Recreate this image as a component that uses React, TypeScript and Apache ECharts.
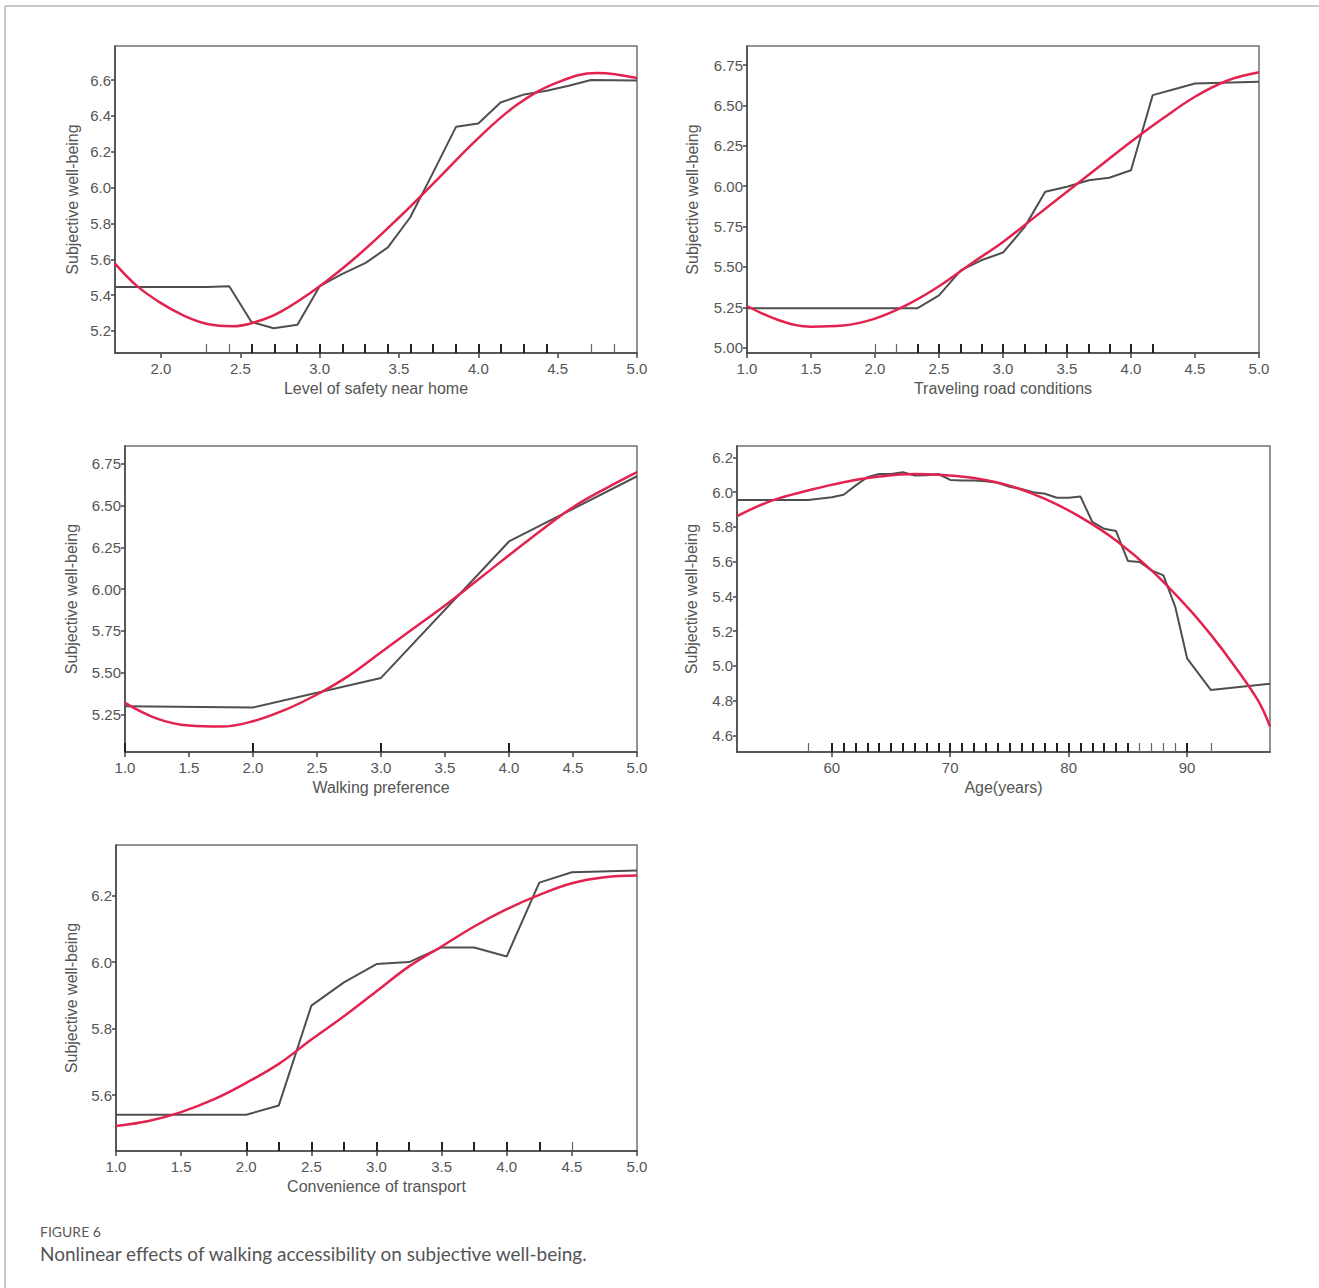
import React, { useEffect, useRef } from "react";
import * as echarts from "echarts";

// ---------- Panel 1: Level of safety near home ----------
const safetyPdX = [1.71, 2.29, 2.43, 2.57, 2.71, 2.86, 3.0, 3.14, 3.29, 3.43, 3.57, 3.71, 3.86, 4.0, 4.14, 4.29, 4.43, 4.57, 4.71, 5.0];
const safetyPdY = [5.445, 5.445, 5.45, 5.25, 5.215, 5.234, 5.45, 5.517, 5.58, 5.666, 5.833, 6.075, 6.34, 6.358, 6.475, 6.52, 6.54, 6.568, 6.6, 6.597];
const safetyFitX = [1.71, 1.85, 2.0, 2.15, 2.3, 2.45, 2.6, 2.75, 3.0, 3.25, 3.5, 3.75, 4.0, 4.25, 4.5, 4.75, 5.0];
const safetyFitY = [5.576, 5.45, 5.355, 5.283, 5.237, 5.226, 5.251, 5.305, 5.45, 5.628, 5.833, 6.053, 6.276, 6.466, 6.587, 6.64, 6.611];
const safetyRugHeavy = [2.571, 2.714, 2.857, 3.0, 3.143, 3.286, 3.429, 3.571, 3.714, 3.857, 4.0, 4.143, 4.286, 4.429];
const safetyRugLight = [2.286, 2.429, 4.714, 4.857];
const safetyXTicks = [2.0, 2.5, 3.0, 3.5, 4.0, 4.5, 5.0];
const safetyYTicks = [5.2, 5.4, 5.6, 5.8, 6.0, 6.2, 6.4, 6.6];

// ---------- Panel 2: Traveling road conditions ----------
const roadPdX = [1.0, 2.33, 2.5, 2.67, 2.83, 3.0, 3.17, 3.33, 3.5, 3.67, 3.83, 4.0, 4.17, 4.33, 4.5, 5.0];
const roadPdY = [5.244, 5.244, 5.324, 5.479, 5.541, 5.589, 5.748, 5.965, 5.996, 6.037, 6.052, 6.099, 6.564, 6.599, 6.636, 6.646];
const roadFitX = [1.0, 1.25, 1.5, 1.75, 2.0, 2.25, 2.5, 2.75, 3.0, 3.25, 3.5, 3.75, 4.0, 4.25, 4.5, 4.75, 5.0];
const roadFitY = [5.258, 5.17, 5.13, 5.137, 5.18, 5.265, 5.38, 5.52, 5.655, 5.81, 5.965, 6.12, 6.275, 6.42, 6.554, 6.653, 6.705];
const roadRugHeavy = [2.333, 2.5, 2.667, 2.833, 3.0, 3.167, 3.333, 3.5, 3.667, 3.833, 4.0, 4.167];
const roadRugLight = [2.0, 2.167];
const roadXTicks = [1.0, 1.5, 2.0, 2.5, 3.0, 3.5, 4.0, 4.5, 5.0];
const roadYTicks = [5.0, 5.25, 5.5, 5.75, 6.0, 6.25, 6.5, 6.75];

// ---------- Panel 3: Walking preference ----------
const walkPdX = [1.0, 2.0, 3.0, 4.0, 5.0];
const walkPdY = [5.3, 5.292, 5.469, 6.285, 6.675];
const walkFitX = [1.0, 1.25, 1.5, 1.75, 2.0, 2.25, 2.5, 2.75, 3.0, 3.25, 3.5, 3.75, 4.0, 4.25, 4.5, 4.75, 5.0];
const walkFitY = [5.32, 5.226, 5.184, 5.178, 5.21, 5.278, 5.37, 5.483, 5.623, 5.763, 5.902, 6.052, 6.202, 6.351, 6.49, 6.6, 6.7];
const walkRugHeavy = [1.0, 2.0, 3.0, 4.0];
const walkRugLight: number[] = [];
const walkXTicks = [1.0, 1.5, 2.0, 2.5, 3.0, 3.5, 4.0, 4.5, 5.0];
const walkYTicks = [5.25, 5.5, 5.75, 6.0, 6.25, 6.5, 6.75];

// ---------- Panel 4: Age(years) ----------
const agePdX = [52, 58, 60, 61, 62, 63, 64, 65, 66, 67, 68, 69, 70, 71, 72, 73, 74, 75, 76, 77, 78, 79, 80, 81, 82, 83, 84, 85, 86, 87, 88, 89, 90, 92, 97];
const agePdY = [5.955, 5.955, 5.97, 5.985, 6.037, 6.085, 6.104, 6.104, 6.114, 6.095, 6.097, 6.104, 6.07, 6.066, 6.066, 6.062, 6.053, 6.03, 6.018, 5.999, 5.99, 5.967, 5.967, 5.974, 5.828, 5.789, 5.776, 5.604, 5.598, 5.55, 5.521, 5.34, 5.044, 4.862, 4.897];
const ageFitX = [52, 55, 58, 61, 64, 67, 69, 72, 75, 78, 81, 84, 87, 90, 92, 94, 96, 97];
const ageFitY = [5.862, 5.952, 6.009, 6.057, 6.089, 6.104, 6.1, 6.081, 6.037, 5.961, 5.856, 5.722, 5.55, 5.34, 5.18, 5.0, 4.8, 4.652];
const ageRugHeavy = [60, 61, 62, 63, 64, 65, 66, 67, 68, 69, 70, 71, 72, 73, 74, 75, 76, 77, 78, 79, 80, 81, 82, 83, 84, 85, 90];
const ageRugLight = [58, 86, 87, 88, 89, 92];
const ageXTicks = [60, 70, 80, 90];
const ageYTicks = [4.6, 4.8, 5.0, 5.2, 5.4, 5.6, 5.8, 6.0, 6.2];

// ---------- Panel 5: Convenience of transport ----------
const convPdX = [1.0, 2.0, 2.25, 2.5, 2.75, 3.0, 3.25, 3.5, 3.75, 4.0, 4.25, 4.5, 5.0];
const convPdY = [5.541, 5.541, 5.569, 5.869, 5.939, 5.994, 6.0, 6.044, 6.044, 6.017, 6.239, 6.27, 6.275];
const convFitX = [1.0, 1.25, 1.5, 1.75, 2.0, 2.25, 2.5, 2.75, 3.0, 3.25, 3.5, 3.75, 4.0, 4.25, 4.5, 4.75, 5.0];
const convFitY = [5.507, 5.522, 5.549, 5.587, 5.637, 5.694, 5.767, 5.837, 5.912, 5.987, 6.047, 6.107, 6.159, 6.202, 6.237, 6.255, 6.26];
const convRugHeavy = [2.0, 2.25, 2.5, 2.75, 3.0, 3.25, 3.5, 3.75, 4.0, 4.25];
const convRugLight = [4.5];
const convXTicks = [1.0, 1.5, 2.0, 2.5, 3.0, 3.5, 4.0, 4.5, 5.0];
const convYTicks = [5.6, 5.8, 6.0, 6.2];

const yName = "Subjective well-being";
const captionLabel = "FIGURE 6";
const captionText = "Nonlinear effects of walking accessibility on subjective well-being.";

const zip = (xs: number[], ys: number[]) => xs.map((x, i) => [x, ys[i]]);

type Panel = {
  name: string;
  pdX: number[]; pdY: number[]; fitX: number[]; fitY: number[];
  rugHeavy: number[]; rugLight: number[];
  xTicks: number[]; yTicks: number[];
  xMin: number; xMax: number; yMin: number; yMax: number;
  xDec: number; yDec: number;
  left: number; top: number; width: number; height: number;
  yGap: number;
};

const panels: Panel[] = [
  { name: "Level of safety near home", pdX: safetyPdX, pdY: safetyPdY, fitX: safetyFitX, fitY: safetyFitY,
    rugHeavy: safetyRugHeavy, rugLight: safetyRugLight, xTicks: safetyXTicks, yTicks: safetyYTicks,
    xMin: 1.71, xMax: 5.0, yMin: 5.077, yMax: 6.79, xDec: 1, yDec: 1,
    left: 115, top: 46, width: 522, height: 307, yGap: 35 },
  { name: "Traveling road conditions", pdX: roadPdX, pdY: roadPdY, fitX: roadFitX, fitY: roadFitY,
    rugHeavy: roadRugHeavy, rugLight: roadRugLight, xTicks: roadXTicks, yTicks: roadYTicks,
    xMin: 1.0, xMax: 5.0, yMin: 4.967, yMax: 6.868, xDec: 1, yDec: 2,
    left: 747, top: 46, width: 512, height: 307, yGap: 47 },
  { name: "Walking preference", pdX: walkPdX, pdY: walkPdY, fitX: walkFitX, fitY: walkFitY,
    rugHeavy: walkRugHeavy, rugLight: walkRugLight, xTicks: walkXTicks, yTicks: walkYTicks,
    xMin: 1.0, xMax: 5.0, yMin: 5.026, yMax: 6.856, xDec: 1, yDec: 2,
    left: 125, top: 446, width: 512, height: 306, yGap: 46 },
  { name: "Age(years)", pdX: agePdX, pdY: agePdY, fitX: ageFitX, fitY: ageFitY,
    rugHeavy: ageRugHeavy, rugLight: ageRugLight, xTicks: ageXTicks, yTicks: ageYTicks,
    xMin: 52, xMax: 97, yMin: 4.505, yMax: 6.265, xDec: 0, yDec: 1,
    left: 737, top: 446, width: 533, height: 306, yGap: 38 },
  { name: "Convenience of transport", pdX: convPdX, pdY: convPdY, fitX: convFitX, fitY: convFitY,
    rugHeavy: convRugHeavy, rugLight: convRugLight, xTicks: convXTicks, yTicks: convYTicks,
    xMin: 1.0, xMax: 5.0, yMin: 5.432, yMax: 6.352, xDec: 1, yDec: 1,
    left: 116, top: 845, width: 521, height: 306, yGap: 37 },
];

const AXIS_FONT = "'Liberation Sans', Arial, sans-serif";
const AXIS_COLOR = "#444";
const LABEL_COLOR = "#555";
const PD_COLOR = "#4f4f4f";
const FIT_COLOR = "#e3234f";

function buildOption() {
  const grid: any[] = [];
  const xAxis: any[] = [];
  const yAxis: any[] = [];
  const series: any[] = [];

  panels.forEach((p, i) => {
    grid.push({
      left: p.left, top: p.top, width: p.width, height: p.height,
      show: true, borderColor: "#707070", borderWidth: 1.5, backgroundColor: "transparent",
    });
    const mainX = xAxis.length;
    xAxis.push({
      type: "value", gridIndex: i, min: p.xMin, max: p.xMax, position: "bottom",
      name: p.name, nameLocation: "middle", nameGap: 27,
      nameTextStyle: { fontFamily: AXIS_FONT, fontSize: 16, color: LABEL_COLOR },
      axisLine: { show: true, onZero: false, lineStyle: { color: AXIS_COLOR, width: 1.5 } },
      axisTick: { show: true, customValues: p.xTicks, length: 5, lineStyle: { color: AXIS_COLOR, width: 1.5 } },
      axisLabel: {
        show: true, customValues: p.xTicks, margin: 8,
        formatter: (v: number) => v.toFixed(p.xDec),
        fontFamily: AXIS_FONT, fontSize: 15, color: LABEL_COLOR,
      },
      splitLine: { show: false },
    });
    const rugs: [number[], number, string][] = [
      [p.rugHeavy, 2, "#222"],
      [p.rugLight, 1.2, "#666"],
    ];
    rugs.forEach(([vals, w, c]) => {
      if (!vals.length) return;
      xAxis.push({
        type: "value", gridIndex: i, min: p.xMin, max: p.xMax, position: "bottom", offset: 0,
        axisLine: { show: false, onZero: false },
        axisTick: { show: true, inside: true, customValues: vals, length: 9, lineStyle: { color: c, width: w } },
        axisLabel: { show: false },
        splitLine: { show: false },
      });
    });
    const yIdx = yAxis.length;
    yAxis.push({
      type: "value", gridIndex: i, min: p.yMin, max: p.yMax,
      name: yName, nameLocation: "middle", nameGap: p.yGap, nameRotate: 90,
      nameTextStyle: { fontFamily: AXIS_FONT, fontSize: 16, color: LABEL_COLOR },
      axisLine: { show: true, onZero: false, lineStyle: { color: AXIS_COLOR, width: 1.5 } },
      axisTick: { show: true, customValues: p.yTicks, length: 4, lineStyle: { color: AXIS_COLOR, width: 1.5 } },
      axisLabel: {
        show: true, customValues: p.yTicks, margin: 4,
        formatter: (v: number) => v.toFixed(p.yDec),
        fontFamily: AXIS_FONT, fontSize: 15, color: LABEL_COLOR,
      },
      splitLine: { show: false },
    });
    series.push({
      type: "line", xAxisIndex: mainX, yAxisIndex: yIdx,
      data: zip(p.pdX, p.pdY), showSymbol: false, symbol: "none",
      lineStyle: { color: PD_COLOR, width: 2 }, z: 2, clip: true,
    });
    series.push({
      type: "line", xAxisIndex: mainX, yAxisIndex: yIdx,
      data: zip(p.fitX, p.fitY), showSymbol: false, symbol: "none",
      smooth: 0.4,
      lineStyle: { color: FIT_COLOR, width: 2.5 }, z: 3, clip: true,
    });
  });

  return {
    animation: false,
    backgroundColor: "#ffffff",
    grid, xAxis, yAxis, series,
    graphic: [
      { type: "line", shape: { x1: 5, y1: 6, x2: 1319, y2: 6 }, style: { stroke: "#c9c9c9", lineWidth: 2 } },
      { type: "line", shape: { x1: 5, y1: 6, x2: 5, y2: 1288 }, style: { stroke: "#c9c9c9", lineWidth: 2 } },
      { type: "text", left: 40, top: 1224, style: { text: captionLabel, fill: "#5a5a5a", font: "14px Lato, 'Open Sans', sans-serif" } },
      { type: "text", left: 40, top: 1244, style: { text: captionText, fill: "#555", font: "19px Lato, 'Open Sans', sans-serif" } },
    ],
  };
}

export default function App() {
  const ref = useRef<HTMLDivElement>(null);
  useEffect(() => {
    if (!ref.current) return;
    const chart = echarts.init(ref.current, undefined, { renderer: "svg" });
    chart.setOption(buildOption() as any);
    return () => chart.dispose();
  }, []);
  return (
    <div
      ref={ref}
      style={{ position: "absolute", left: 0, top: 0, width: 1319, height: 1288, background: "#fff" }}
    />
  );
}
